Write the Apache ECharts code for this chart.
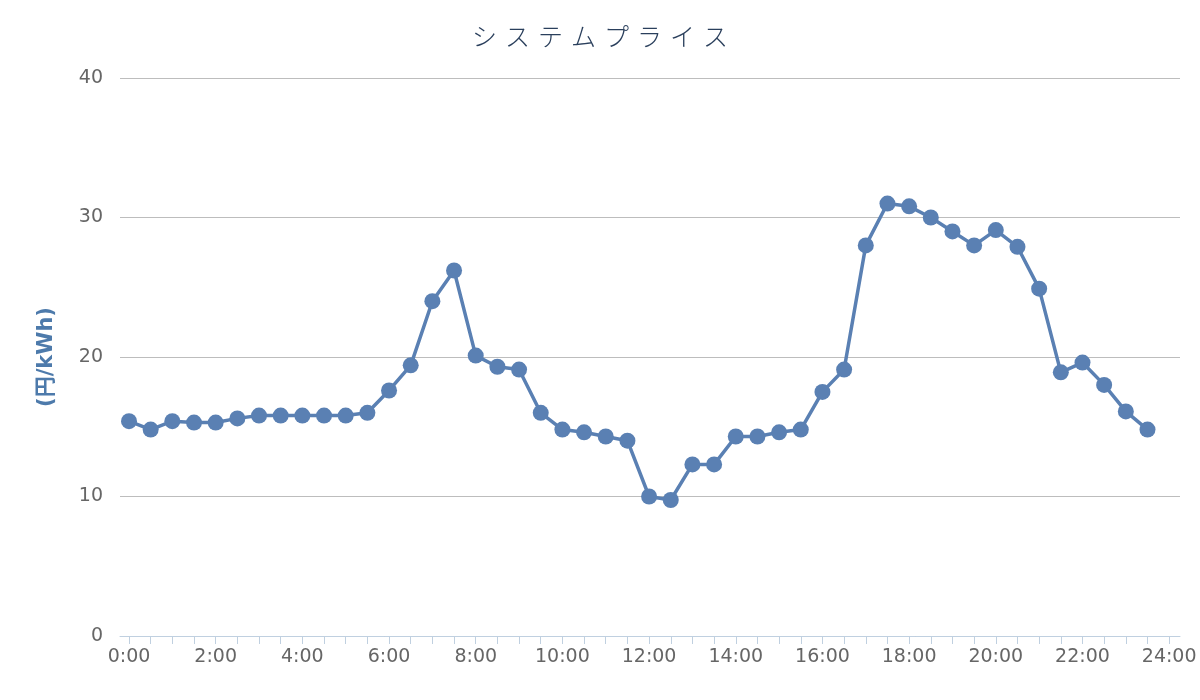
<!DOCTYPE html>
<html>
<head>
<meta charset="utf-8">
<script src="https://cdn.jsdelivr.net/npm/echarts@6/dist/echarts.min.js"></script>
<style>html,body{margin:0;padding:0;background:#fff}#c{width:1200px;height:700px}</style>
</head>
<body>
<div id="c"></div>
<script>
var times = ['0:00','0:30','1:00','1:30','2:00','2:30','3:00','3:30','4:00','4:30','5:00','5:30',
  '6:00','6:30','7:00','7:30','8:00','8:30','9:00','9:30','10:00','10:30','11:00','11:30',
  '12:00','12:30','13:00','13:30','14:00','14:30','15:00','15:30','16:00','16:30','17:00','17:30',
  '18:00','18:30','19:00','19:30','20:00','20:30','21:00','21:30','22:00','22:30','23:00','23:30'];
var prices = [15.4,14.8,15.4,15.3,15.3,15.6,15.8,15.8,15.8,15.8,15.8,16.0,
  17.6,19.4,24.0,26.2,20.1,19.3,19.1,16.0,14.8,14.6,14.3,14.0,
  10.0,9.75,12.3,12.3,14.3,14.3,14.6,14.8,17.5,19.1,28.0,31.0,
  30.8,30.0,29.0,28.0,29.1,27.9,24.9,18.9,19.6,18.0,16.1,14.8];
var xLabelHours = [0,2,4,6,8,10,12,14,16,18,20,22,24];
var xTickHours = [];
for (var i = 0; i <= 48; i++) xTickHours.push(i / 2);
var yTicks = [0,10,20,30,40];
var titleText = 'システムプライス';
var yName = '(円/kWh)';

function toHours(t) { var p = t.split(':'); return +p[0] + (+p[1]) / 60; }
var seriesData = times.map(function (t, i) { return [toHours(t), prices[i]]; });

var titleRich = titleText.split('').map(function (ch) { return '{c|' + ch + '}'; }).join('');

var chart = echarts.init(document.getElementById('c'), null, {renderer: 'canvas'});
chart.setOption({
  animation: false,
  backgroundColor: '#ffffff',
  title: {
    text: titleRich,
    left: 'center',
    top: 19,
    textStyle: {
      rich: {
        c: {
          fontFamily: '"Noto Sans CJK JP", sans-serif',
          fontSize: 25,
          fontWeight: 300,
          color: '#2a3f5c',
          padding: [0, 4, 0, 4]
        }
      }
    }
  },
  grid: { left: 120, right: 20, top: 78, bottom: 64, containLabel: false },
  xAxis: {
    type: 'value',
    min: -0.2078,
    max: 24.25,
    splitLine: { show: false },
    axisLine: { show: true, lineStyle: { color: '#c0d0e0', width: 1 } },
    axisTick: { show: true, length: 8, lineStyle: { color: '#c0d0e0', width: 1 }, customValues: xTickHours },
    axisLabel: {
      customValues: xLabelHours,
      formatter: function (v) { return Math.round(v) + ':00'; },
      color: '#666666',
      fontSize: 19,
      margin: 12,
      fontFamily: '"DejaVu Sans", sans-serif'
    }
  },
  yAxis: {
    type: 'value',
    min: 0,
    max: 40,
    interval: 10,
    name: yName,
    nameLocation: 'middle',
    nameGap: 63,
    nameTextStyle: { color: '#4d7aab', fontSize: 21, fontWeight: 'bold', fontFamily: '"DejaVu Sans", "Noto Sans CJK JP", sans-serif' },
    axisLine: { show: false },
    axisTick: { show: false },
    splitLine: { lineStyle: { color: '#bdbdbd', width: 1 } },
    axisLabel: { color: '#666666', fontSize: 19, margin: 17, fontFamily: '"DejaVu Sans", sans-serif' }
  },
  series: [{
    type: 'line',
    data: seriesData,
    symbol: 'circle',
    symbolSize: 16,
    lineStyle: { color: '#5a80b3', width: 3.5 },
    itemStyle: { color: '#5a80b3' },
    z: 3
  }]
});
</script>
</body>
</html>
